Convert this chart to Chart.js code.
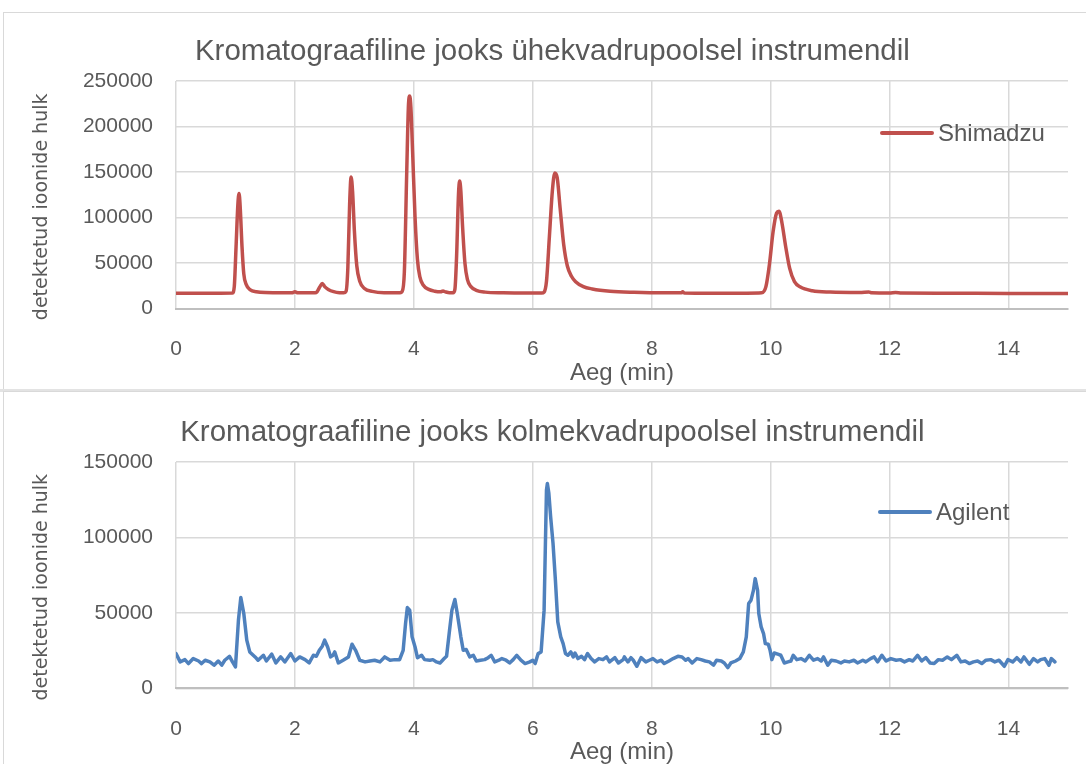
<!DOCTYPE html>
<html>
<head>
<meta charset="utf-8">
<script src="https://cdn.jsdelivr.net/npm/chart.js@4/dist/chart.umd.min.js"></script>
<style>
  html, body { margin: 0; padding: 0; background: #fff; overflow: hidden; width: 1086px; height: 764px; }
  .frame { position: absolute; left: 3px; width: 1110px; border: 1px solid #d9d9d9; background: #fff; }
  .band  { position: absolute; left: 0; top: 389px; width: 1086px; height: 3px; background: #e3e3e3; }
  canvas { position: absolute; left: 4px; }
</style>
</head>
<body>
<div class="frame" style="top:12px;height:376px"></div>
<div class="band"></div>
<div class="frame" style="top:391px;height:380px"></div>
<canvas id="topChart" width="1100" height="376" style="top:13px"></canvas>
<canvas id="bottomChart" width="1100" height="376" style="top:392px"></canvas>

<script>
/* ── Data ────────────────────────────────────────── */
const xTickValues   = [0, 2, 4, 6, 8, 10, 12, 14];
const yTicksTop     = [0, 50000, 100000, 150000, 200000, 250000];
const yTicksBottom  = [0, 50000, 100000, 150000];

// Shimadzu (single quadrupole) – time in min, ion count
const shimadzuTime = [
  0, 0.5, 0.95, 0.98, 1.01, 1.04, 1.06, 1.08, 1.11, 1.14, 1.18, 1.25, 1.35, 1.5, 1.8, 1.95, 2.0, 2.05, 2.3,
  2.36, 2.42, 2.46, 2.5, 2.56, 2.65, 2.75, 2.82, 2.86, 2.89, 2.92, 2.945, 2.97, 3.0, 3.04, 3.09, 3.17, 3.3, 3.5,
  3.77, 3.8, 3.84, 3.88, 3.91, 3.93, 3.95, 3.98, 4.02, 4.06, 4.1, 4.16, 4.25, 4.35, 4.45, 4.49, 4.53, 4.6, 4.66,
  4.69, 4.72, 4.75, 4.77, 4.79, 4.82, 4.86, 4.9, 4.96, 5.05, 5.2, 5.5, 5.9, 6.15, 6.19, 6.23, 6.28, 6.33, 6.37,
  6.41, 6.46, 6.52, 6.58, 6.65, 6.72, 6.85, 7.0, 7.3, 7.7, 8.2, 8.5, 8.52, 8.55, 9.0, 9.6, 9.85, 9.92, 9.98,
  10.04, 10.1, 10.14, 10.19, 10.25, 10.32, 10.4, 10.5, 10.7, 11.0, 11.5, 11.65, 11.7, 12.0, 12.1, 12.2, 13, 14, 15
];
const shimadzuSignal = [
  16800, 16800, 17000, 24000, 68000, 114000, 126500, 111000, 68000, 38000, 26500, 20500, 18500, 17500, 17200, 17200, 18300, 17200, 17200,
  17600, 24000, 27500, 24000, 21000, 18500, 17300, 17200, 19000, 45000, 115000, 144500, 128000, 85000, 47000, 30000, 22000, 18800, 17300,
  17200, 18500, 40000, 150000, 225000, 233500, 221000, 170000, 100000, 54000, 35000, 25500, 21000, 19000, 18300, 19300, 18300, 17300, 17300,
  21000, 60000, 125000, 140000, 129000, 89000, 49000, 32000, 24000, 20000, 18000, 17200, 16900, 16900, 18000, 30000, 80000, 130000, 149000,
  144000, 110000, 70000, 47000, 35500, 29500, 24000, 21500, 19000, 17800, 17200, 17200, 18300, 17000, 16800, 16800, 17200, 24000, 49000,
  84000, 105000, 107000, 94000, 69000, 44000, 29500, 23500, 19500, 18000, 17500, 18200, 17300, 17000, 17600, 17000, 16800, 16600, 16600
];

// Agilent (triple quadrupole) – time in min, ion count
const agilentTime = [
  0, 0.07, 0.15, 0.21, 0.29, 0.38, 0.43, 0.49, 0.57, 0.64, 0.71, 0.77, 0.82, 0.9, 0.95, 1.0, 1.05, 1.09, 1.14, 1.19,
  1.24, 1.33, 1.38, 1.47, 1.52, 1.61, 1.68, 1.76, 1.83, 1.93, 2.0, 2.08, 2.17, 2.24, 2.31, 2.36, 2.41, 2.46, 2.5, 2.55,
  2.6, 2.64, 2.67, 2.73, 2.81, 2.9, 2.96, 3.02, 3.09, 3.18, 3.26, 3.34, 3.43, 3.51, 3.6, 3.68, 3.76, 3.82, 3.86, 3.89,
  3.93, 3.97, 4.02, 4.06, 4.13, 4.18, 4.27, 4.32, 4.38, 4.44, 4.51, 4.55, 4.6, 4.64, 4.69, 4.73, 4.79, 4.83, 4.88, 4.94,
  5.0, 5.05, 5.12, 5.19, 5.25, 5.3, 5.36, 5.43, 5.48, 5.55, 5.61, 5.67, 5.73, 5.8, 5.87, 5.95, 6.0, 6.04, 6.09, 6.14,
  6.19, 6.23, 6.245, 6.27, 6.3, 6.34, 6.38, 6.42, 6.47, 6.51, 6.55, 6.59, 6.64, 6.68, 6.71, 6.76, 6.82, 6.87, 6.92, 6.98,
  7.04, 7.11, 7.18, 7.24, 7.29, 7.38, 7.44, 7.52, 7.54, 7.6, 7.65, 7.69, 7.75, 7.82, 7.9, 7.96, 8.02, 8.09, 8.16, 8.21,
  8.29, 8.36, 8.44, 8.51, 8.57, 8.61, 8.68, 8.76, 8.83, 8.9, 8.97, 9.04, 9.09, 9.17, 9.22, 9.28, 9.33, 9.41, 9.48, 9.54,
  9.59, 9.63, 9.67, 9.71, 9.74, 9.78, 9.8, 9.84, 9.88, 9.91, 9.96, 9.99, 10.02, 10.06, 10.12, 10.17, 10.23, 10.29, 10.34, 10.38,
  10.44, 10.51, 10.58, 10.65, 10.72, 10.79, 10.85, 10.89, 10.96, 11.02, 11.1, 11.18, 11.24, 11.32, 11.4, 11.46, 11.55, 11.6, 11.68, 11.74,
  11.8, 11.87, 11.94, 12.02, 12.11, 12.18, 12.25, 12.33, 12.39, 12.47, 12.54, 12.61, 12.68, 12.75, 12.82, 12.89, 12.97, 13.04, 13.13, 13.2,
  13.27, 13.34, 13.41, 13.48, 13.55, 13.62, 13.7, 13.77, 13.84, 13.93, 13.99, 14.07, 14.14, 14.21, 14.26, 14.35, 14.42, 14.49, 14.54, 14.61,
  14.68, 14.72, 14.78
];
const agilentSignal = [
  23000, 17500, 19000, 16400, 19700, 18100, 16400, 18600, 17500, 15300, 18100, 15300, 18600, 21200, 17500, 14200, 45100, 60200, 49600, 31900,
  24100, 20800, 18600, 21900, 18100, 22600, 16800, 20800, 17500, 23000, 18100, 20800, 19000, 16800, 21900, 21200, 25200, 27900, 31900, 27400,
  20800, 21900, 24100, 16800, 18600, 20800, 29200, 25200, 18600, 17500, 18100, 18600, 17500, 20800, 18600, 19000, 19000, 25200, 42900, 53500,
  51800, 34100, 27400, 20300, 21900, 19000, 18600, 19000, 17500, 16800, 19700, 21200, 38500, 51800, 58900, 49600, 34100, 25200, 25700, 20800,
  21900, 18100, 18600, 19000, 20300, 21900, 17500, 18600, 19700, 18600, 16800, 19000, 21900, 18600, 16400, 17500, 18600, 16400, 23000, 24100,
  51800, 131400, 135800, 129200, 113700, 96000, 71700, 44000, 34100, 29600, 23000, 21900, 24100, 20800, 23400, 19700, 21200, 19000, 23000, 19700,
  17500, 19700, 19000, 20800, 17500, 20300, 16800, 19000, 20800, 17500, 20300, 18600, 14600, 20300, 17500, 18600, 19700, 17500, 18600, 16400,
  18100, 19700, 21200, 20800, 18600, 19700, 16800, 19700, 19000, 18100, 17500, 15300, 18600, 18100, 16800, 13700, 16800, 18100, 19700, 24100,
  34100, 56200, 58400, 64900, 72700, 64900, 49600, 40700, 36300, 29600, 29200, 25200, 19000, 23400, 22600, 21900, 16800, 17500, 18100, 21900,
  19000, 19700, 18100, 21900, 18600, 19700, 18100, 20800, 15300, 18600, 18100, 16800, 18100, 17500, 18600, 16800, 18600, 17500, 19700, 20800,
  17500, 21900, 18100, 19700, 18600, 19000, 17500, 19000, 18100, 21900, 18100, 20300, 16800, 16400, 19000, 18600, 20800, 19000, 21900, 17500,
  18100, 16400, 17500, 18100, 16400, 18600, 19000, 17500, 18600, 14600, 19000, 17500, 20300, 17500, 20800, 15900, 19700, 17500, 19000, 19700,
  15300, 19700, 17500
];

/* ── Shared look ─────────────────────────────────── */
const TEXT   = '#595959';
const GRID   = '#d9d9d9';
const SANS   = "'Liberation Sans', Arial, sans-serif";
const CANVAS_H = 376;

/* Excel-style legend sitting inside the plot */
const insideLegend = {
  id: 'insideLegend',
  afterDraw(chart, args, opts) {
    const ctx = chart.ctx;
    const ds  = chart.data.datasets[0];
    ctx.save();
    ctx.strokeStyle = ds.borderColor;
    ctx.lineWidth = 4;
    ctx.lineCap = 'round';
    ctx.beginPath();
    ctx.moveTo(opts.x, opts.y);
    ctx.lineTo(opts.x + 50, opts.y);
    ctx.stroke();
    ctx.fillStyle = TEXT;
    ctx.font = '24px ' + SANS;
    ctx.textBaseline = 'middle';
    ctx.fillText(ds.label, opts.x + 56, opts.y + 1);
    ctx.restore();
  }
};

function makeChart(id, cfg) {
  const points = cfg.time.map((t, i) => ({ x: t, y: cfg.signal[i] }));
  return new Chart(document.getElementById(id), {
    type: 'line',
    data: {
      datasets: [{
        label: cfg.label,
        data: points,
        borderColor: cfg.color,
        borderWidth: 3.5,
        borderJoinStyle: 'round',
        borderCapStyle: 'round',
        pointRadius: 0,
        tension: cfg.smooth ? 0.4 : 0,
        cubicInterpolationMode: cfg.smooth ? 'monotone' : 'default',
      }]
    },
    options: {
      responsive: false,
      animation: false,
      layout: { padding: { top: 0, left: 0, right: 36, bottom: 0 } },
      plugins: {
        legend: { display: false },
        tooltip: { enabled: false },
        title: {
          display: true,
          // leading spaces nudge the centred title right, like the Excel original
          text: '    ' + cfg.title,
          color: TEXT,
          font: { family: SANS, size: 29.5, weight: 'normal' },
          padding: { top: cfg.titleTop, bottom: cfg.plotTop - cfg.titleTop - 35.4 },
        },
        insideLegend: cfg.legend,
      },
      scales: {
        x: {
          type: 'linear',
          min: 0, max: 15,
          afterBuildTicks: s => { s.ticks = xTickValues.map(v => ({ value: v })); },
          afterFit: s => { s.height = CANVAS_H - cfg.plotBottom; },
          grid: { color: GRID, lineWidth: 1.5, drawTicks: false },
          border: { display: true, color: '#bfbfbf', width: 2 },
          ticks: { color: TEXT, padding: 28, font: { family: SANS, size: 21 } },
          title: {
            display: true, text: 'Aeg (min)', color: TEXT,
            font: { family: SANS, size: 24 }, padding: { top: 0, bottom: 1 }
          }
        },
        y: {
          min: 0, max: cfg.yTicks[cfg.yTicks.length - 1],
          afterBuildTicks: s => { s.ticks = cfg.yTicks.map(v => ({ value: v })); },
          afterFit: s => { s.width = 172; },
          grid: { color: GRID, lineWidth: 1.5, drawTicks: false },
          border: { display: false },
          ticks: { color: TEXT, padding: 23, font: { family: SANS, size: 21 }, callback: v => String(v) },
          title: {
            display: true, text: 'detektetud ioonide hulk    ', color: TEXT,
            font: { family: "'DejaVu Sans', sans-serif", size: 19 }, padding: { top: 26.6, bottom: 0 }
          }
        }
      }
    },
    plugins: [insideLegend]
  });
}

/* ── Build both charts ───────────────────────────── */
makeChart('topChart', {
  label: 'Shimadzu', color: '#C0504D', smooth: true,
  title: 'Kromatograafiline jooks ühekvadrupoolsel instrumendil',
  time: shimadzuTime, signal: shimadzuSignal, yTicks: yTicksTop,
  titleTop: 21, plotTop: 68, plotBottom: 295.5,
  legend: { x: 878, y: 120 },
});

makeChart('bottomChart', {
  label: 'Agilent', color: '#4F81BD', smooth: false,
  title: 'Kromatograafiline jooks kolmekvadrupoolsel instrumendil',
  time: agilentTime, signal: agilentSignal, yTicks: yTicksBottom,
  titleTop: 23.3, plotTop: 70, plotBottom: 296.3,
  legend: { x: 876, y: 120 },
});
</script>
</body>
</html>
